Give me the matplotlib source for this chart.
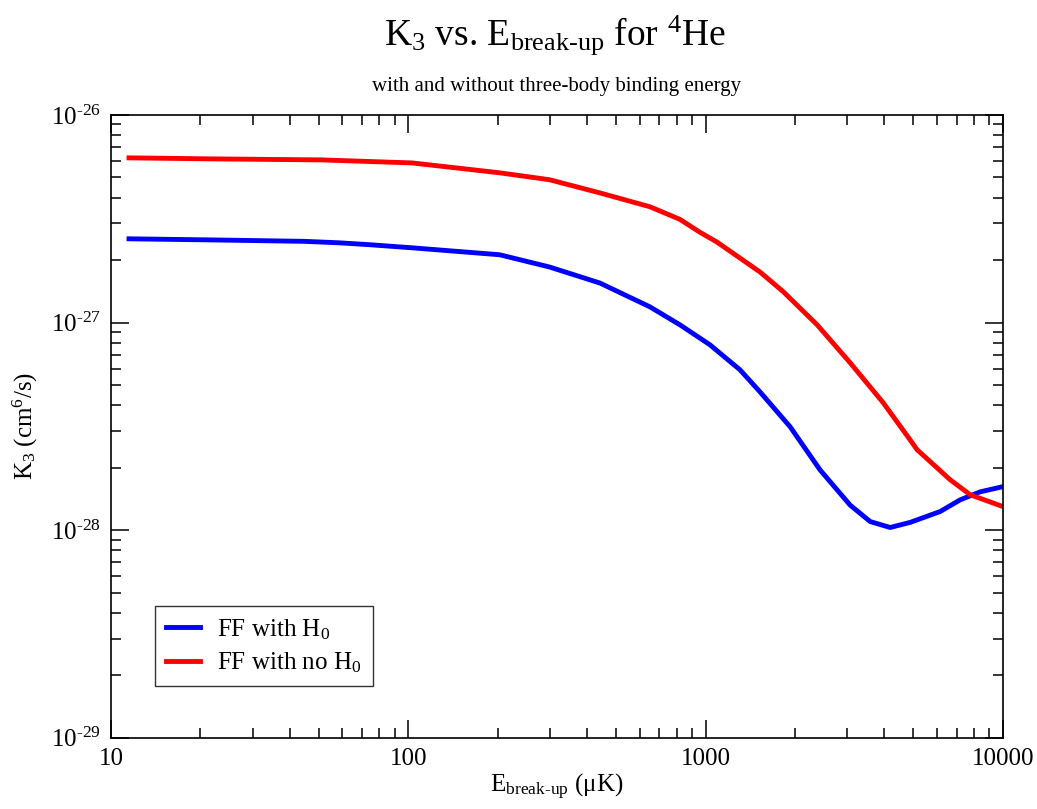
import math
import matplotlib
matplotlib.use("Agg")
import matplotlib.pyplot as plt
from matplotlib.ticker import FixedLocator, FuncFormatter

plt.rcParams['font.family'] = ['Liberation Serif', 'DejaVu Serif']
plt.rcParams['mathtext.fontset'] = 'custom'
plt.rcParams['mathtext.rm'] = 'Liberation Serif'
plt.rcParams['mathtext.it'] = 'Liberation Serif:italic'
plt.rcParams['mathtext.bf'] = 'Liberation Serif:bold'

# E_break-up (uK) and K3 (cm^6/s)
e_no_h0 = [11.5, 21.5, 51.1, 80.2, 103, 203, 299, 441, 650, 820, 958, 1093,
           1526, 1824, 2374, 3066, 3960, 4880, 5150, 6650, 7775, 10000]
k3_no_h0 = [6.21e-27, 6.14e-27, 6.07e-27, 5.94e-27, 5.87e-27, 5.26e-27, 4.87e-27,
            4.21e-27, 3.61e-27, 3.14e-27, 2.72e-27, 2.44e-27, 1.75e-27, 1.41e-27,
            9.75e-28, 6.40e-28, 4.11e-28, 2.72e-28, 2.44e-28, 1.75e-28, 1.48e-28,
            1.30e-28]

e_h0 = [11.5, 21.5, 44.8, 58.7, 74.1, 103, 203, 299, 441, 650, 820, 1035,
        1306, 1526, 1925, 2429, 3066, 3581, 4180, 4880, 6160, 7190, 8400, 10000]
k3_h0 = [2.53e-27, 2.50e-27, 2.46e-27, 2.42e-27, 2.37e-27, 2.29e-27, 2.12e-27,
         1.85e-27, 1.55e-27, 1.19e-27, 9.75e-28, 7.81e-28, 5.92e-28, 4.63e-28,
         3.15e-28, 1.95e-28, 1.32e-28, 1.10e-28, 1.03e-28, 1.09e-28, 1.23e-28,
         1.40e-28, 1.53e-28, 1.62e-28]

x_ticks = [10, 100, 1000, 10000]
y_ticks = [1e-29, 1e-28, 1e-27, 1e-26]

fig = plt.figure(figsize=(10.37, 8.09), dpi=100)
ax = fig.add_axes([0.107, 0.088, 0.860, 0.770])

ax.plot(e_h0, k3_h0, color='#0000ff', lw=3.5, label='FF with H$_0$')
ax.plot(e_no_h0, k3_no_h0, color='#ff0000', lw=3.5, label='FF with no H$_0$')

ax.set_xscale('log')
ax.set_yscale('log')
ax.set_xlim(10, 10000)
ax.set_ylim(1e-29, 1e-26)
ax.xaxis.set_major_locator(FixedLocator(x_ticks))
ax.yaxis.set_major_locator(FixedLocator(y_ticks))

ax.tick_params(which='both', direction='in', top=True, right=True, width=1.1,
               labelsize=18)
ax.tick_params(which='major', length=13, pad=7)
ax.tick_params(which='minor', length=7)
ax.xaxis.set_major_formatter(FuncFormatter(lambda v, p: '%d' % round(v)))
ax.yaxis.set_major_formatter(FuncFormatter(
    lambda v, p: r'10$^{\text{-%d}}$' % round(-math.log10(v))))
for s in ax.spines.values():
    s.set_linewidth(1.2)

ax.set_xlabel(r'E$_{\text{break-up}}$ (μK)', fontsize=18, labelpad=2)
ax.set_ylabel(r'K$_3$ (cm$^6$/s)', fontsize=18, labelpad=8)

fig.text(0.535, 0.957, r'K$_3$ vs. E$_{\text{break-up}}$ for $^4$He',
         ha='center', va='center', fontsize=27)
fig.text(0.537, 0.893, 'with and without three-body binding energy',
         ha='center', va='center', fontsize=15)

leg = ax.legend(loc='lower left', bbox_to_anchor=(0.049, 0.083), fontsize=18,
                frameon=True, fancybox=False, edgecolor='black',
                borderaxespad=0, handlelength=1.35, handletextpad=0.7,
                borderpad=0.45, labelspacing=0.35)
leg.get_frame().set_linewidth(1.0)

fig.savefig('out.png', dpi=100)
